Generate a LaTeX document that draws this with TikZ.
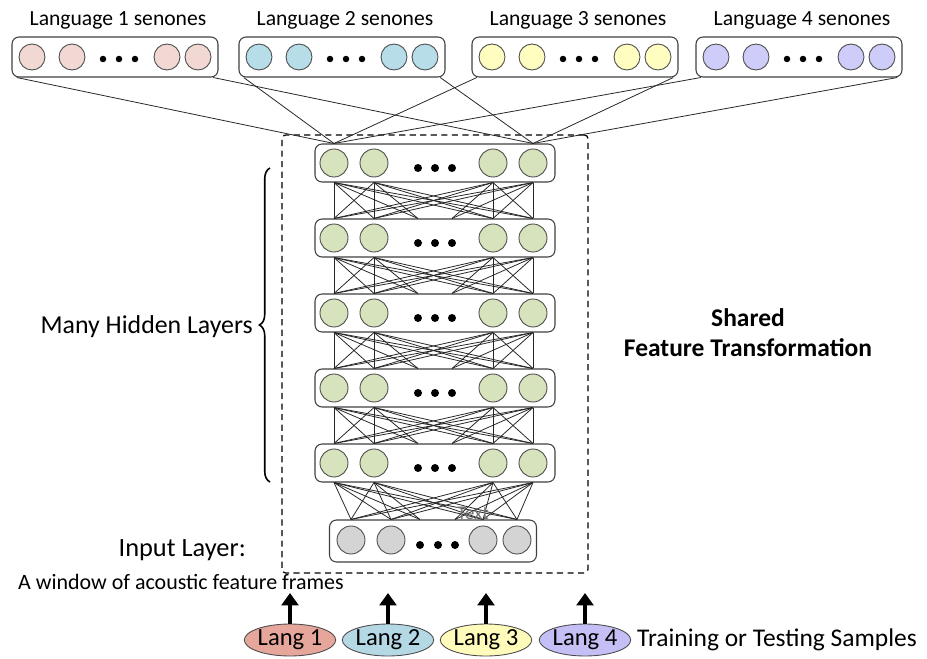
\documentclass[tikz,border=0pt]{standalone}
\usepackage{fontspec}
\setmainfont{Carlito}
\usetikzlibrary{shapes.geometric, decorations.pathreplacing, arrows.meta}

\definecolor{sen1}{RGB}{241,216,211}
\definecolor{sen2}{RGB}{183,221,232}
\definecolor{sen3}{RGB}{255,253,192}
\definecolor{sen4}{RGB}{206,204,249}
\definecolor{hidc}{RGB}{215,227,188}
\definecolor{inc}{RGB}{212,212,212}
\definecolor{lang1}{RGB}{230,166,156}
\definecolor{lang2}{RGB}{181,216,229}
\definecolor{lang3}{RGB}{255,251,186}
\definecolor{lang4}{RGB}{196,191,245}

\begin{document}
\begin{tikzpicture}[x=0.02cm, y=-0.02cm,
	unitbox/.style={draw=black!75, fill=white, rounded corners=4pt, line width=0.6pt},
	neuron/.style={circle, draw=black!70, line width=0.5pt, minimum size=0.52cm, inner sep=0pt},
	dot/.style={circle, fill=black, minimum size=0.16cm, inner sep=0pt},
	link/.style={line width=0.45pt, black!85},
	langnode/.style={ellipse, draw=black!70, line width=0.5pt, minimum width=1.6cm, minimum height=0.64cm, inner sep=0pt, font=\fontsize{14}{16}\selectfont},
	uparrow/.style={line width=2.4pt, -{Triangle[length=7pt, width=9.5pt]}}]
	\useasboundingbox (0,0) rectangle (927,659);

	% shared part
	\node[draw, dashed, dash pattern=on 3.5pt off 2.5pt, line width=0.7pt, rounded corners=2pt,
		minimum width=6.12cm, minimum height=8.76cm] (shared) at (435,354) {};

	% output layers
	\foreach \k/\x/\lab in {1/115/{Language 1 senones}, 2/342/{Language 2 senones}, 3/575/{Language 3 senones}, 4/799/{Language 4 senones}} {
		\node[unitbox, minimum width=4.12cm, minimum height=0.8cm] (s\k) at (\x,57) {};
		\node[font=\fontsize{12.3}{14}\selectfont] (s\k-lab) at (\x+3,20) {\lab};
		\foreach \n/\dx in {1/-83, 2/-43, 3/52, 4/83}
			\node[neuron, fill=sen\k] (s\k-\n) at (\x+\dx,57) {};
		\foreach \n/\dx in {1/-12, 2/4, 3/20}
			\node[dot, minimum size=0.13cm] (s\k-d\n) at (\x+\dx,59) {};
	}

	% hidden layers
	\foreach \i/\y in {1/163, 2/238, 3/313, 4/388, 5/463} {
		\node[unitbox, minimum width=4.8cm, minimum height=0.76cm] (h\i) at (435,\y) {};
		\foreach \n/\x in {1/334, 2/374, 3/493, 4/533}
			\node[neuron, fill=hidc, minimum size=0.56cm] (h\i-\n) at (\x,\y) {};
		\foreach \n/\x in {1/418, 2/435, 3/452}
			\node[dot] (h\i-d\n) at (\x,\y+5) {};
	}

	% input layer
	\node[unitbox, minimum width=4.14cm, minimum height=0.84cm] (in) at (433,541) {};
	\foreach \n/\x in {1/351, 2/391, 3/483, 4/517}
		\node[neuron, fill=inc, minimum width=0.5cm, minimum height=0.56cm] (in-\n) at (\x,540) {};
	\foreach \n/\x in {1/420, 2/438, 3/455}
		\node[dot] (in-d\n) at (\x,545) {};

	% weights
	\foreach \i/\j in {1/2, 2/3, 3/4, 4/5} {
		\foreach \a in {1,...,4}
			\foreach \b in {1,...,4}
				\draw[link] (h\i-\a |- h\i.south) -- (h\j-\b |- h\j.north);
		\foreach \a/\d in {1/1, 2/1, 3/3, 4/3}
			\draw[link] (h\i-\a |- h\i.south) -- (h\j-d\d |- h\j.north);
	}
	\foreach \a in {1,...,4}
		\foreach \b in {1,...,4}
			\draw[link] (h5-\a |- h5.south) -- (in-\b |- in.north);
	\foreach \a/\d in {1/1, 2/1, 3/3, 4/3}
		\draw[link] (h5-\a |- h5.south) -- (in-d\d |- in.north);
	\foreach \k in {1,...,4} {
		\draw[link] ([xshift=3pt]s\k.south west) -- (h1-1 |- h1.north);
		\draw[link] ([xshift=-3pt]s\k.south east) -- (h1-4 |- h1.north);
	}
	\node[text=black!55, font=\fontsize{11}{12}\selectfont] (txt) at (473,513) {Text};

	% labels
	\coordinate (bl) at (270,482);
	\coordinate (bu) at (270,168);
	\draw[line width=0.9pt, decorate, decoration={brace, amplitude=6pt}] (bl) -- (bu);
	\node[anchor=east, font=\fontsize{14.7}{17}\selectfont] (hid) at (259,327) {Many Hidden Layers};
	\node[align=center, font=\bfseries\fontsize{14.5}{17}\selectfont] (shr) at (748,333) {Shared\\Feature Transformation};
	\node[anchor=east, font=\fontsize{15}{17}\selectfont] (inlab) at (252,550) {Input Layer:};
	\node[anchor=west, font=\fontsize{12.5}{14}\selectfont] (win) at (12,582) {A window of acoustic feature frames};

	% samples
	\foreach \k/\x in {1/290, 2/388, 3/486, 4/585} {
		\node[langnode, fill=lang\k] (l\k) at (\x,640) {Lang \k};
		\coordinate (t\k) at (\x,593);
		\draw[uparrow] (l\k.north) -- (t\k);
	}
	\node[anchor=west, font=\fontsize{14.5}{17}\selectfont] (samp) at (631,640) {Training or Testing Samples};
\end{tikzpicture}
\end{document}
